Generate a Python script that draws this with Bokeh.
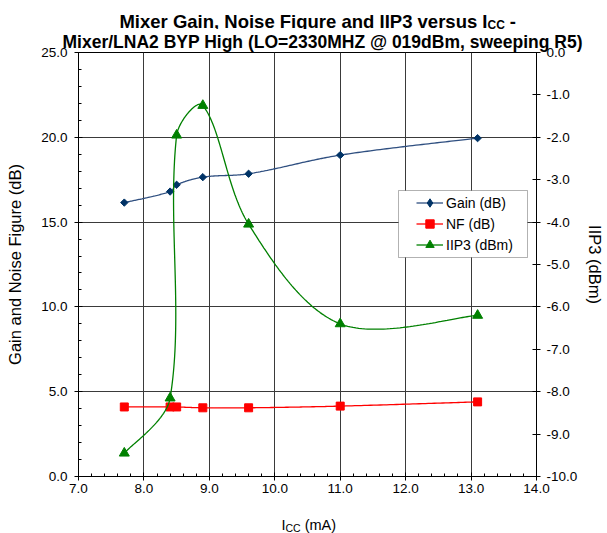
import numpy as np
from bokeh.plotting import figure
from bokeh.layouts import column
from bokeh.models import (Range1d, LinearAxis, SingleIntervalTicker, NumeralTickFormatter,
                          Label, Legend, LegendItem, BoxAnnotation, Title)
from bokeh.embed import file_html
from bokeh.resources import INLINE

# ---------------- data ----------------
icc_ma = [7.7, 8.4, 8.5, 8.9, 9.6, 11.0, 13.1]
gain_db = [16.15, 16.8, 17.2, 17.65, 17.85, 18.95, 19.95]
nf_db = [4.1, 4.1, 4.1, 4.05, 4.05, 4.15, 4.4]
iip3_dbm = [-9.45, -8.15, -1.95, -1.25, -4.05, -6.4, -6.2]

series_names = ["Gain (dB)", "NF (dB)", "IIP3 (dBm)"]
title_line1 = "Mixer Gain, Noise Figure and IIP3 versus I"
title_sub = "CC"
title_line2 = "Mixer/LNA2 BYP High (LO=2330MHZ @ 019dBm, sweeping R5)"
xlabel_main, xlabel_sub, xlabel_unit = "I", "CC", "(mA)"
ylabel_left = "Gain and Noise Figure (dB)"
ylabel_right = "IIP3 (dBm)"

X_MIN, X_MAX = 7.0, 14.0
YL_MIN, YL_MAX = 0.0, 25.0
YR_MIN, YR_MAX = -10.0, 0.0

FONT = "Liberation Sans"
W = 607
TOP_H = 29            # strip holding title line 1
BOT_H = 33            # strip holding x-axis label
MAIN_H = 533 - TOP_H - BOT_H
BL, BR, BT, BB = 78, 66, 22, 24
FW, FH = W - BL - BR, MAIN_H - BT - BB
FRAME_LEFT = BL
FRAME_BOTTOM = TOP_H + BT + FH


def excel_smooth(xs, ys, kx, ky, steps=50):
    P = np.column_stack([np.asarray(xs, float) * kx, np.asarray(ys, float) * ky])
    n = len(P)
    d = np.hypot(*(P[1:] - P[:-1]).T)
    out = [P[0]]
    t = np.linspace(0, 1, steps)[1:, None]

    def ctrl(i, seg):
        pm = P[i - 1] if i > 0 else P[i]
        pn = P[i + 1] if i + 1 < n else P[i]
        dl = d[i - 1] if i > 0 else d[i]
        dr = d[i] if i < n - 1 else d[i - 1]
        return (pn - pm) * (d[seg] / (dl + dr)) / 3.0

    for i in range(n - 1):
        p0, p3 = P[i], P[i + 1]
        c1 = p0 + ctrl(i, i)
        c2 = p3 - ctrl(i + 1, i)
        B = (1 - t) ** 3 * p0 + 3 * (1 - t) ** 2 * t * c1 + 3 * (1 - t) * t ** 2 * c2 + t ** 3 * p3
        out.extend(B)
    out = np.array(out)
    return out[:, 0] / kx, out[:, 1] / ky


kx = FW / (X_MAX - X_MIN)
kyl = FH / (YL_MAX - YL_MIN)
kyr = FH / (YR_MAX - YR_MIN)


def strip(height):
    f = figure(width=W, height=height, output_backend="svg", toolbar_location=None,
               x_range=Range1d(0, 1), y_range=Range1d(0, 1),
               x_axis_location=None, y_axis_location=None, min_border=0,
               min_border_top=0, min_border_bottom=0,
               outline_line_color=None, background_fill_color="white",
               border_fill_color="white")
    f.grid.visible = False
    return f


top = strip(TOP_H)
bottom = strip(BOT_H)

p = figure(width=W, height=MAIN_H, output_backend="svg", toolbar_location=None,
           x_range=Range1d(X_MIN, X_MAX), y_range=Range1d(YL_MIN, YL_MAX),
           min_border_left=BL, min_border_right=BR, min_border_top=BT, min_border_bottom=BB,
           background_fill_color="white", border_fill_color="white")
p.extra_y_ranges = {"iip3": Range1d(YR_MIN, YR_MAX), "key": Range1d(1000, 1001)}
p.outline_line_color = "black"
p.outline_line_width = 1

p.title = Title(text=title_line2, align="left", offset=-16, standoff=1,
                text_font=FONT, text_font_size="17.5px", text_font_style="bold",
                text_color="black")

# axes
xt = SingleIntervalTicker(interval=1, num_minor_ticks=5)
ylt = SingleIntervalTicker(interval=5, num_minor_ticks=5)
yrt = SingleIntervalTicker(interval=1, num_minor_ticks=0)

for ax in (p.xaxis[0], p.yaxis[0]):
    ax.formatter = NumeralTickFormatter(format="0.0")
    ax.major_label_text_font = FONT
    ax.major_label_text_font_size = "13.5px"
    ax.major_label_text_color = "black"
    ax.axis_line_color = "black"
    ax.major_tick_line_color = "black"
    ax.minor_tick_line_color = "black"
    ax.major_tick_in = 4
    ax.major_tick_out = 4
    ax.minor_tick_in = 3
    ax.minor_tick_out = 0
p.xaxis[0].ticker = xt
p.yaxis[0].ticker = ylt
p.xaxis[0].major_label_standoff = 3
p.yaxis[0].major_label_standoff = 7
p.yaxis[0].axis_label = ylabel_left
p.yaxis[0].axis_label_text_font = FONT
p.yaxis[0].axis_label_text_font_size = "16.5px"
p.yaxis[0].axis_label_text_font_style = "normal"
p.yaxis[0].axis_label_text_color = "black"
p.yaxis[0].axis_label_standoff = 14

ry = LinearAxis(y_range_name="iip3", ticker=yrt, formatter=NumeralTickFormatter(format="0.0"))
ry.major_label_text_font = FONT
ry.major_label_text_font_size = "13.5px"
ry.major_label_text_color = "black"
ry.axis_line_color = "black"
ry.major_tick_line_color = "black"
ry.minor_tick_line_color = None
ry.major_tick_in = 4
ry.major_tick_out = 4
ry.major_label_standoff = 6
ry.axis_label = ylabel_right
ry.axis_label_text_font = FONT
ry.axis_label_text_font_size = "16.5px"
ry.axis_label_text_font_style = "normal"
ry.axis_label_text_color = "black"
ry.axis_label_standoff = 6
p.add_layout(ry, "right")

p.xgrid.ticker = xt
p.ygrid.ticker = ylt
p.xgrid.grid_line_color = "#3a3a3a"
p.ygrid.grid_line_color = "#3a3a3a"
p.xgrid.grid_line_width = 1
p.ygrid.grid_line_width = 1

# series
gx, gy = excel_smooth(icc_ma, gain_db, kx, kyl)
nx, ny = excel_smooth(icc_ma, nf_db, kx, kyl)
ix, iy = excel_smooth(icc_ma, iip3_dbm, kx, kyr)

gain_line = p.line(gx, gy, line_color="#2F4F80", line_width=1.3)
gain_pts = p.scatter(icc_ma, gain_db, marker="square", angle=np.pi / 4, size=5.2,
                     fill_color="#003366", line_color="#003366")
# same points on an off-view range: only its legend glyph (a diamond) is seen
gain_key = p.scatter(icc_ma, gain_db, marker="diamond", size=9, y_range_name="key",
                     fill_color="#003366", line_color="#003366")
nf_line = p.line(nx, ny, line_color="#FF0000", line_width=1.3)
nf_pts = p.scatter(icc_ma, nf_db, marker="square", size=8,
                   fill_color="#FF0000", line_color="#FF0000")
ip_line = p.line(ix, iy, line_color="#008000", line_width=1.3, y_range_name="iip3")
ip_pts = p.scatter(icc_ma, iip3_dbm, marker="triangle", size=10,
                   fill_color="#008000", line_color="#008000", y_range_name="iip3")


# legend (screen coords relative to the main frame)
def sxp(page_x):
    return page_x - FRAME_LEFT


def syp(page_y):
    return FRAME_BOTTOM - page_y


box = BoxAnnotation(left=sxp(398), right=sxp(527), top=syp(190), bottom=syp(257),
                    left_units="screen", right_units="screen", top_units="screen", bottom_units="screen",
                    fill_color="white", fill_alpha=1.0, line_color="black", line_width=1,
                    editable=False)
p.add_layout(box)

legend = Legend(items=[LegendItem(label=series_names[0], renderers=[gain_line, gain_key]),
                       LegendItem(label=series_names[1], renderers=[nf_line, nf_pts]),
                       LegendItem(label=series_names[2], renderers=[ip_line, ip_pts])],
                location=(sxp(416), syp(255)), padding=0, margin=0, spacing=0,
                glyph_width=27, glyph_height=21, label_height=21, label_standoff=3,
                label_text_font=FONT, label_text_font_size="14px", label_text_color="black",
                border_line_color=None, background_fill_alpha=0.0)
p.add_layout(legend, "center")


# strips: their frames share the main frame's horizontal extent
def lab(fig, strip_top, strip_h, x, y, text, size, bold=False, align="left"):
    fig.add_layout(Label(x=x - FRAME_LEFT, y=strip_top + strip_h - y,
                         x_units="screen", y_units="screen",
                         text=text, text_font=FONT, text_font_size=size,
                         text_font_style="bold" if bold else "normal",
                         text_align=align, text_baseline="alphabetic", text_color="black"))


# title line 1 with subscript (page coordinates)
J1 = 487
lab(top, 0, TOP_H, J1, 21, title_line1, "18.5px", bold=True, align="right")
lab(top, 0, TOP_H, J1, 24.5, title_sub, "12px", bold=True)
lab(top, 0, TOP_H, J1 + 17.3 + 5, 21, "-", "18.5px", bold=True)

# x-axis label with subscript
BOT_TOP = 533 - BOT_H
J2 = 285
lab(bottom, BOT_TOP, BOT_H, J2, 524, xlabel_main, "14.5px", align="right")
lab(bottom, BOT_TOP, BOT_H, J2, 527, xlabel_sub, "10.5px")
lab(bottom, BOT_TOP, BOT_H, J2 + 15.2 + 4, 524, xlabel_unit, "14.5px")

layout = column(top, p, bottom, spacing=0)
open("out.html", "w").write(file_html(layout, INLINE))
